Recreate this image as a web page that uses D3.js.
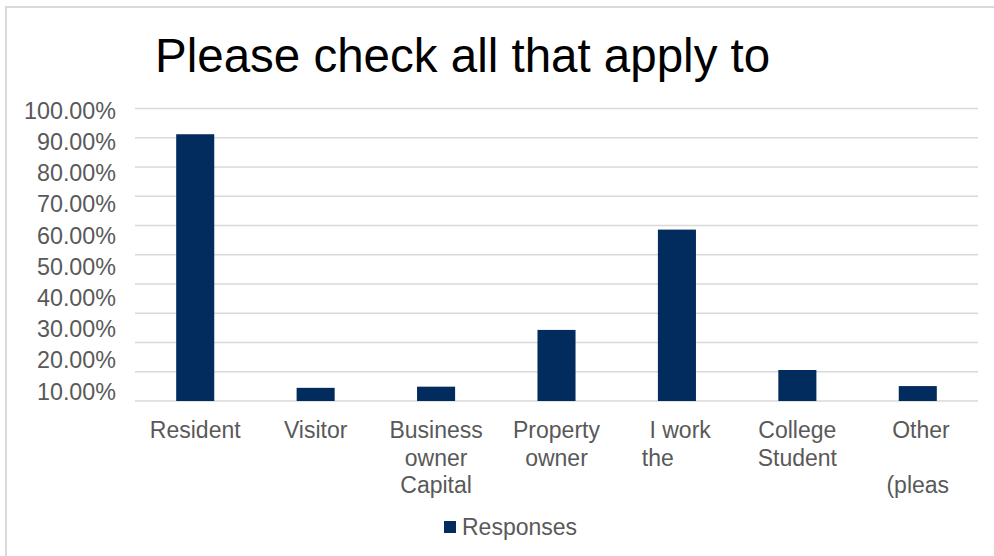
<!DOCTYPE html>
<html>
<head>
<meta charset="utf-8">
<script src="https://cdn.jsdelivr.net/npm/d3@7"></script>
<style>
  body { margin: 0; background: #fff; }
  text { font-family: "Liberation Sans", Arial, sans-serif; }
</style>
</head>
<body>
<div id="chart"></div>
<script>
const title = 'Please check all that apply to';
const categories = ['Resident', 'Visitor', 'Business owner Capital', 'Property owner', 'I work the', 'College Student', 'Other (pleas'];
const categoryLines = [['Resident'], ['Visitor'], ['Business', 'owner', 'Capital'], ['Property', 'owner'], [' I work', 'the      '], ['College', 'Student'], [' Other', '', '(pleas']];
const responses = [0.912, 0.045, 0.049, 0.243, 0.586, 0.106, 0.051];
const gridValues = [0, 0.1, 0.2, 0.3, 0.4, 0.5, 0.6, 0.7, 0.8, 0.9, 1.0];
const tickLabels = ['100.00%', '90.00%', '80.00%', '70.00%', '60.00%', '50.00%', '40.00%', '30.00%', '20.00%', '10.00%'];
const seriesName = 'Responses';

const width = 994;
const height = 556;
const color = '#022b5e';
const textColor = '#595959';

const svg = d3.select('#chart').append('svg').attr('width', width).attr('height', height);

// chart border
svg.append('rect')
  .attr('x', 6).attr('y', 7)
  .attr('width', width).attr('height', height)
  .attr('fill', 'none').attr('stroke', '#d9d9d9').attr('stroke-width', 2);

const x = d3.scaleBand().domain(categories).range([135, 978]).paddingInner(0.684).paddingOuter(0.342);
const y = d3.scaleLinear().domain([0, 1]).range([401, 108.5]);
// the value labels sit on their own spacing in the original
const yLabel = d3.scalePoint().domain(tickLabels).range([110.5, 391.5]);

svg.append('text')
  .attr('x', 155).attr('y', 72)
  .attr('font-size', 47.5)
  .attr('fill', '#000')
  .text(title);

svg.append('g')
  .selectAll('line')
  .data(gridValues)
  .join('line')
  .attr('x1', 135).attr('x2', 978)
  .attr('y1', (d) => y(d)).attr('y2', (d) => y(d))
  .attr('stroke', '#d9d9d9').attr('stroke-width', 1.5);

svg.append('g')
  .selectAll('text')
  .data(tickLabels)
  .join('text')
  .attr('x', 116)
  .attr('y', (d) => yLabel(d))
  .attr('dy', '0.35em')
  .attr('text-anchor', 'end')
  .attr('font-size', 23.3)
  .attr('fill', textColor)
  .text((d) => d);

svg.append('g')
  .selectAll('rect')
  .data(responses)
  .join('rect')
  .attr('x', (d, i) => x(categories[i]))
  .attr('y', (d) => y(d))
  .attr('width', x.bandwidth())
  .attr('height', (d) => y(0) - y(d))
  .attr('fill', color);

const label = svg.append('g')
  .selectAll('text')
  .data(categories)
  .join('text')
  .attr('text-anchor', 'middle')
  .attr('font-size', 23)
  .attr('fill', textColor)
  .style('white-space', 'pre')
  .attr('transform', (d) => `translate(${x(d) + x.bandwidth() / 2},438)`);

label.selectAll('tspan')
  .data((d, i) => categoryLines[i])
  .join('tspan')
  .attr('x', 0)
  .attr('y', (d, i) => i * 27.5)
  .text((d) => d);

const legend = svg.append('g').attr('transform', 'translate(444,521)');
legend.append('rect').attr('width', 12).attr('height', 12).attr('fill', color);
legend.append('text')
  .attr('x', 18).attr('y', 6).attr('dy', '0.35em')
  .attr('font-size', 23)
  .attr('fill', textColor)
  .text(seriesName);
</script>
</body>
</html>
